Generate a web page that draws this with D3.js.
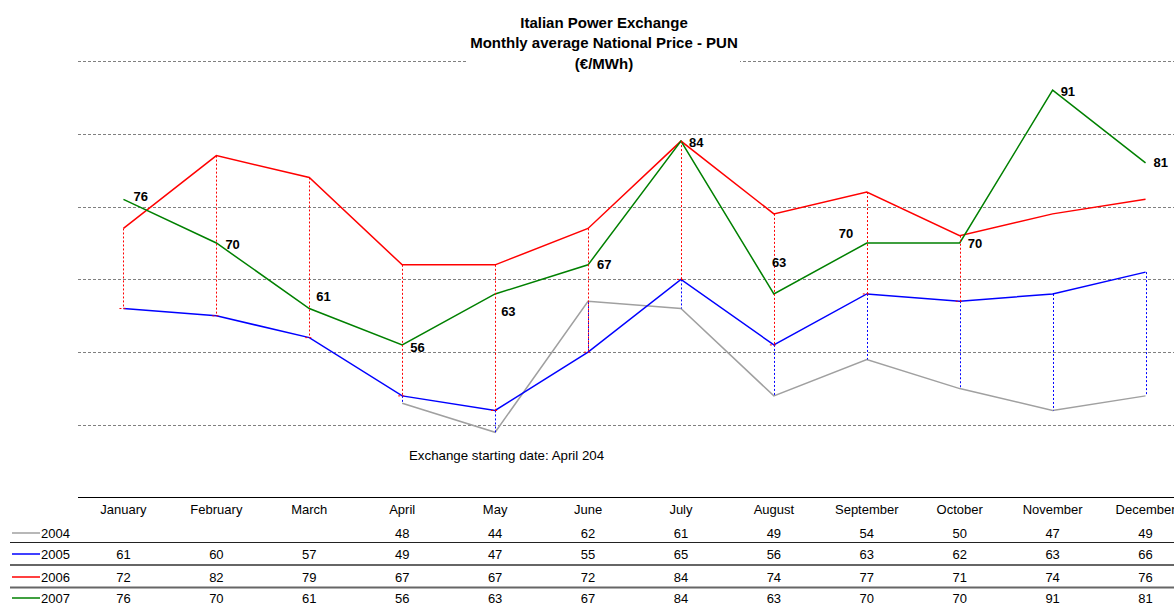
<!DOCTYPE html>
<html>
<head>
<meta charset="utf-8">
<script src="https://cdn.jsdelivr.net/npm/d3@7/dist/d3.min.js"></script>
<style>
body { margin: 0; background: #fff; }
text { font-family: "Liberation Sans", Arial, sans-serif; fill: #000; }
</style>
</head>
<body>
<svg width="1174" height="604"></svg>
<script>
var months = ["January", "February", "March", "April", "May", "June",
    "July", "August", "September", "October", "November", "December"];
var years = ["2004", "2005", "2006", "2007"];
var pun2004 = [null, null, null, 48, 44, 62, 61, 49, 54, 50, 47, 49];
var pun2005 = [61, 60, 57, 49, 47, 55, 65, 56, 63, 62, 63, 66];
var pun2006 = [72, 82, 79, 67, 67, 72, 84, 74, 77, 71, 74, 76];
var pun2007 = [76, 70, 61, 56, 63, 67, 84, 63, 70, 70, 91, 81];
var gridValues = [45, 55, 65, 75, 85, 95];
// months where the 2006 series has its dotted bar down to 2005
var drop2006 = [1, 1, 1, 1, 1, 1, 1, 1, 1, 1, 0, 0];
var titleLines = ["Italian Power Exchange", "Monthly average National Price - PUN", "(€/MWh)"];
var note = "Exchange starting date: April 204";

var series = [pun2004, pun2005, pun2006, pun2007];
var colors = ["#a0a0a0", "#0000ff", "#ff0000", "#008000"];
// label nudges for the 2007 values, as they were moved by hand
var nudge = [[10, 2], [9, 6], [7, -8], [8, 7], [6, 22], [9, 4],
    [8, 6], [-2, -27], [-28, -5], [8, 5], [8, 6], [8, 4]];

var svg = d3.select("svg");

var x = d3.scaleBand()
    .domain(months)
    .range([77, 1192]);

var y = d3.scaleLinear()
    .domain([45, 95])
    .range([425, 61]);

var cx = function(i) { return x(months[i]) + x.bandwidth() / 2; };

// gridlines
svg.append("g")
    .selectAll("line")
    .data(gridValues)
    .enter()
    .append("line")
        .attr("x1", 78)
        .attr("x2", 1174)
        .attr("y1", function(d) { return Math.round(y(d)) + 0.5; })
        .attr("y2", function(d) { return Math.round(y(d)) + 0.5; })
        .attr("stroke", "#808080")
        .attr("stroke-dasharray", "3,2");

// title, on a white box over the top gridline
svg.append("rect")
    .attr("x", 468)
    .attr("y", 6)
    .attr("width", 272)
    .attr("height", 68)
    .attr("fill", "#fff");

svg.append("g")
    .selectAll("text")
    .data(titleLines)
    .enter()
    .append("text")
        .attr("x", 604)
        .attr("y", function(d, i) { return 28 + i * 20.3; })
        .attr("text-anchor", "middle")
        .attr("font-size", "15")
        .attr("font-weight", "bold")
        .text(function(d) { return d; });

var line = d3.line()
    .defined(function(d) { return d != null; })
    .x(function(d, i) { return cx(i); })
    .y(function(d) { return y(d); });

svg.append("g")
    .selectAll("path")
    .data(series)
    .enter()
    .append("path")
        .attr("d", line)
        .attr("fill", "none")
        .attr("stroke", function(d, i) { return colors[i]; })
        .attr("stroke-width", 1.5);

// dotted bars: 2005 down/up to 2004, 2006 down to 2005
var bars = svg.append("g");
months.forEach(function(m, i) {
    if (pun2004[i] != null) {
        bars.append("line")
            .attr("x1", Math.round(cx(i)) + 0.5)
            .attr("x2", Math.round(cx(i)) + 0.5)
            .attr("y1", y(pun2005[i]))
            .attr("y2", y(pun2004[i]))
            .attr("stroke", colors[1])
            .attr("stroke-dasharray", "2,2");
    }
    if (drop2006[i]) {
        bars.append("line")
            .attr("x1", Math.round(cx(i)) + 0.5)
            .attr("x2", Math.round(cx(i)) + 0.5)
            .attr("y1", y(pun2006[i]))
            .attr("y2", y(pun2005[i]))
            .attr("stroke", colors[2])
            .attr("stroke-dasharray", "2,2");
        bars.append("line")
            .attr("x1", cx(i) - 4)
            .attr("x2", cx(i) + 4)
            .attr("y1", y(pun2005[i]))
            .attr("y2", y(pun2005[i]))
            .attr("stroke", colors[2])
            .attr("stroke-dasharray", "2,2");
    }
});

// 2007 value labels
svg.append("g")
    .selectAll("text")
    .data(pun2007)
    .enter()
    .append("text")
        .attr("x", function(d, i) { return cx(i) + nudge[i][0]; })
        .attr("y", function(d, i) { return y(d) + nudge[i][1]; })
        .attr("font-size", "13")
        .attr("font-weight", "bold")
        .text(function(d) { return d; });

svg.append("text")
    .attr("x", 409)
    .attr("y", 460)
    .attr("font-size", "13.3")
    .text(note);

// data table under the chart
var rowY = [533, 554, 577, 598];
var sepY = [542.5, 565, 587.5];

svg.append("line")
    .attr("x1", 78).attr("x2", 1174)
    .attr("y1", 497.5).attr("y2", 497.5)
    .attr("stroke", "#000");

svg.append("g")
    .selectAll("line")
    .data(sepY)
    .enter()
    .append("line")
        .attr("x1", 10).attr("x2", 1174)
        .attr("y1", function(d) { return d; })
        .attr("y2", function(d) { return d; })
        .attr("stroke", function(d, i) { return i == 0 ? "#222" : "#666"; })
        .attr("stroke-width", function(d, i) { return i == 0 ? 1 : 2; });

svg.append("g")
    .selectAll("text")
    .data(months)
    .enter()
    .append("text")
        .attr("x", function(d, i) { return cx(i); })
        .attr("y", 514)
        .attr("text-anchor", "middle")
        .attr("font-size", "13")
        .text(function(d) { return d; });

var row = svg.append("g")
    .selectAll(".row")
    .data(series)
    .enter()
    .append("g")
        .attr("class", "row")
        .attr("transform", function(d, i) { return "translate(0," + rowY[i] + ")"; });

row.append("line")
    .attr("x1", 12).attr("x2", 40)
    .attr("y1", 0).attr("y2", 0)
    .attr("stroke", function(d, i) { return colors[i]; })
    .attr("stroke-width", 1.5);

row.append("text")
    .attr("x", 41)
    .attr("y", 5)
    .attr("font-size", "13")
    .text(function(d, i) { return years[i]; });

row.selectAll(".val")
    .data(function(d) { return d; })
    .enter()
    .append("text")
        .attr("class", "val")
        .attr("x", function(d, i) { return cx(i); })
        .attr("y", 5)
        .attr("text-anchor", "middle")
        .attr("font-size", "13")
        .text(function(d) { return d == null ? "" : d; });
</script>
</body>
</html>
